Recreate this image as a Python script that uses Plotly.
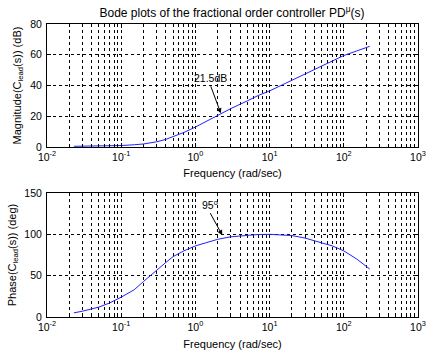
import plotly.graph_objects as go

freq_mag = [0.023, 0.05, 0.1, 0.15, 0.2, 0.3, 0.4, 0.5, 0.7, 1, 1.5, 2, 3, 5, 7, 10, 20, 30, 50, 70, 100, 150, 224]
mag_db = [0.5, 0.7, 1.0, 1.5, 2.0, 3.4, 5.0, 6.8, 9.5, 13.0, 17.5, 20.7, 25.0, 30.0, 33.5, 36.5, 43.5, 47.5, 52.5, 56.0, 59.5, 62.5, 65.5]
freq_ph = [0.023, 0.03, 0.05, 0.07, 0.1, 0.15, 0.2, 0.3, 0.4, 0.5, 0.7, 1, 1.5, 2, 3, 5, 7, 10, 15, 20, 30, 50, 70, 100, 150, 224]
phase_deg = [5, 7, 12, 17, 24, 33, 43, 57, 66, 73, 80, 86, 91, 94, 97, 99, 99.8, 100, 99.5, 98.5, 95.5, 90, 86, 80, 70, 58]

xtick_vals = [0.01, 0.1, 1, 10, 100, 1000]
xtick_text = ["10<sup>-2</sup>", "10<sup>-1</sup>", "10<sup>0</sup>", "10<sup>1</sup>", "10<sup>2</sup>", "10<sup>3</sup>"]

fig = go.Figure()
fig.add_trace(go.Scatter(x=freq_mag, y=mag_db, mode="lines", line=dict(color="#2020ff", width=1),
                         xaxis="x", yaxis="y", showlegend=False, hoverinfo="skip"))
fig.add_trace(go.Scatter(x=freq_ph, y=phase_deg, mode="lines", line=dict(color="#2020ff", width=1),
                         xaxis="x2", yaxis="y2", showlegend=False, hoverinfo="skip"))

fam = "Liberation Sans, Arial, sans-serif"
font = dict(family=fam, size=10.5, color="black")
tfont = dict(family=fam, size=11, color="black")

xcommon = dict(type="log", range=[-2, 3], tickvals=xtick_vals, ticktext=xtick_text, automargin=False,
               showline=True, mirror="ticks", linecolor="black", linewidth=1,
               ticks="inside", ticklen=4, tickcolor="black",
               showgrid=True, gridcolor="black", griddash="dot", gridwidth=1,
               minor=dict(dtick="D1", showgrid=True, gridcolor="black", griddash="dot", gridwidth=1,
                          ticks="inside", ticklen=2, tickcolor="black"),
               zeroline=False, tickfont=font)

ycommon = dict(showline=True, mirror="ticks", linecolor="black", ticks="inside", ticklen=4, tickcolor="black",
               showgrid=True, gridcolor="black", griddash="dot", zeroline=False, tickfont=font, automargin=False,
               ticklabelstandoff=2)

fig.update_layout(
    width=428, height=358,
    margin=dict(l=47, r=10, t=24, b=41),
    paper_bgcolor="white", plot_bgcolor="white",
    font=font,
    title=dict(text="Bode plots of the fractional order controller PD<sup>μ</sup>(s)", automargin=False,
               x=0.542, xanchor="center", y=0.963, yanchor="middle", font=dict(size=12, family=fam, color="black")),
    xaxis=dict(domain=[0, 1], anchor="y", title=dict(text="Frequency (rad/sec)", font=tfont, standoff=7), **xcommon),
    yaxis=dict(domain=[0.58, 1.0], anchor="x", range=[0, 80], tickvals=[0, 20, 40, 60, 80],
               title=dict(text="Magnitude(C<sub>lead</sub>(s)) (dB)", font=tfont, standoff=6), **ycommon),
    xaxis2=dict(domain=[0, 1], anchor="y2", title=dict(text="Frequency (rad/sec)", font=tfont, standoff=8), **xcommon),
    yaxis2=dict(domain=[0, 0.4232], anchor="x2", range=[0, 150], tickvals=[0, 50, 100, 150],
                title=dict(text="Phase(C<sub>lead</sub>(s)) (deg)", font=tfont, standoff=5), **ycommon),
)

fig.add_annotation(x=0.342, y=22, xref="x", yref="y", text="21.5dB", showarrow=True,
                   arrowhead=2, arrowsize=1, arrowwidth=1, arrowcolor="black",
                   ax=-10, ay=-27, font=font, yanchor="bottom")
fig.add_annotation(x=0.362, y=99, xref="x2", yref="y2", text="95<sup>o</sup>", showarrow=True,
                   arrowhead=2, arrowsize=1, arrowwidth=1, arrowcolor="black",
                   ax=-12, ay=-22, font=font, yanchor="bottom")

fig.write_html("out.html", config={"displayModeBar": False},
               post_script="document.body.style.margin='0';")
